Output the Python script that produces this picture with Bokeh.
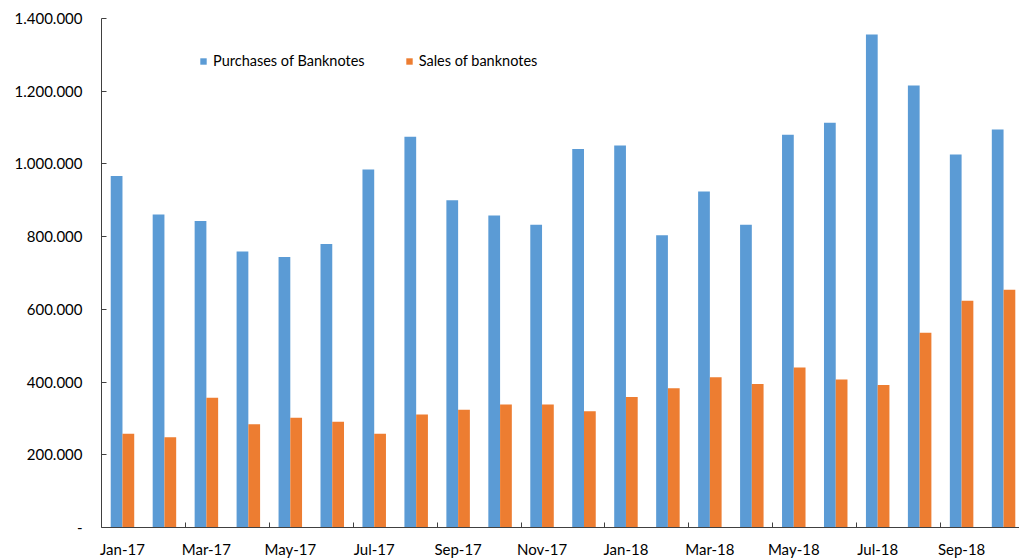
from bokeh.plotting import figure
from bokeh.models import ColumnDataSource, Range1d, FixedTicker, Legend, LegendItem
from bokeh.embed import file_html
from bokeh.resources import INLINE

months = ["Jan-17", "Feb-17", "Mar-17", "Apr-17", "May-17", "Jun-17", "Jul-17", "Aug-17",
          "Sep-17", "Oct-17", "Nov-17", "Dec-17", "Jan-18", "Feb-18", "Mar-18", "Apr-18",
          "May-18", "Jun-18", "Jul-18", "Aug-18", "Sep-18", "Oct-18"]
purchases = [967000, 861000, 843000, 759000, 744000, 780000, 985000, 1075000, 900000, 858000,
             833000, 1041000, 1051000, 804000, 924000, 833000, 1080000, 1113000, 1356000,
             1216000, 1026000, 1095000]
sales = [258000, 248000, 357000, 284000, 302000, 291000, 258000, 311000, 324000, 338000,
         338000, 320000, 359000, 383000, 413000, 395000, 440000, 407000, 392000, 536000,
         624000, 654000]
y_ticks = [0, 200000, 400000, 600000, 800000, 1000000, 1200000, 1400000]

FONT = "Lato"
BLUE = "#5B9BD5"
ORANGE = "#ED7D31"
BW = 0.28

idx = list(range(len(months)))
src = ColumnDataSource(dict(
    xp=[i + 0.5 - BW / 2 for i in idx],
    xs=[i + 0.5 + BW / 2 for i in idx],
    purchases=purchases,
    sales=sales,
))

p = figure(width=1019, height=560, output_backend="svg", toolbar_location=None,
           x_range=Range1d(0, 21.88), y_range=Range1d(0, 1400000),
           min_border_left=101, min_border_right=0, min_border_top=18, min_border_bottom=33)
p.outline_line_color = None
p.xgrid.visible = False
p.ygrid.visible = False
p.background_fill_color = "white"
p.border_fill_color = "white"

r1 = p.vbar(x="xp", top="purchases", width=BW, source=src, fill_color=BLUE, line_color=None)
r2 = p.vbar(x="xs", top="sales", width=BW, source=src, fill_color=ORANGE, line_color=None)

# y axis
yax = p.yaxis[0]
yax.ticker = FixedTicker(ticks=y_ticks, minor_ticks=[])
yax.major_label_overrides = {t: ("-" if t == 0 else f"{t:,}".replace(",", ".")) for t in y_ticks}
yax.major_tick_in = 5
yax.major_tick_out = 0
yax.minor_tick_in = 0
yax.minor_tick_out = 0
yax.axis_line_color = "#404040"
yax.major_tick_line_color = "#404040"
yax.major_label_text_font = FONT
yax.major_label_text_font_size = "15px"
yax.major_label_text_color = "#000000"
yax.major_label_standoff = 19

# x axis
label_pos = [i + 0.5 for i in idx if i % 2 == 0]
xax = p.xaxis[0]
xax.ticker = FixedTicker(ticks=label_pos, minor_ticks=[i for i in range(2, 22, 2)])
xax.major_label_overrides = {i + 0.5: months[i] for i in idx if i % 2 == 0}
xax.major_tick_in = 0
xax.major_tick_out = 0
xax.minor_tick_in = 5
xax.minor_tick_out = 0
xax.axis_line_color = "#404040"
xax.minor_tick_line_color = "#404040"
xax.major_label_text_font = FONT
xax.major_label_text_font_size = "15px"
xax.major_label_text_color = "#000000"
xax.major_label_standoff = 12

legend = Legend(items=[LegendItem(label="Purchases of Banknotes", renderers=[r1]),
                       LegendItem(label="Sales of banknotes", renderers=[r2])],
                orientation="horizontal", location=(98, 458))
legend.glyph_width = 8
legend.glyph_height = 8
legend.label_standoff = 6
legend.spacing = 40
legend.padding = 0
legend.margin = 0
legend.border_line_color = None
legend.background_fill_alpha = 0
legend.label_text_font = FONT
legend.label_text_font_size = "14.5px"
legend.label_text_color = "#000000"
legend.label_height = 16
p.add_layout(legend, "center")

open("out.html", "w").write(file_html(p, INLINE))
